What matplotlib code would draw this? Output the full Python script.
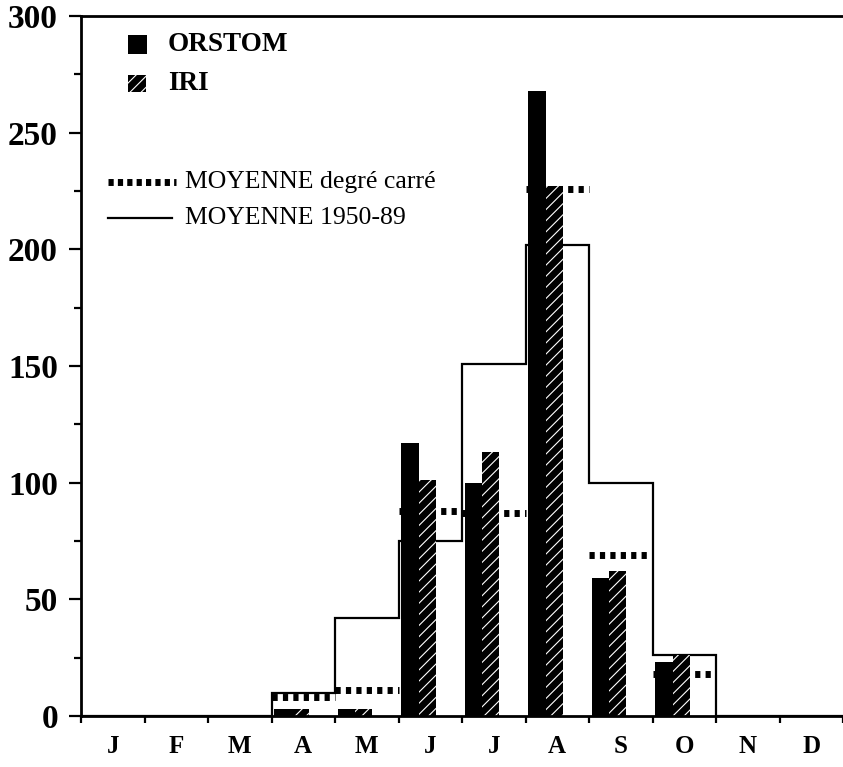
import matplotlib
matplotlib.use("Agg")
import matplotlib.pyplot as plt
from matplotlib.patches import Rectangle
from matplotlib.lines import Line2D
import numpy as np

# monthly rainfall (mm)
months = ["J", "F", "M", "A", "M", "J", "J", "A", "S", "O", "N", "D"]
orstom = [0, 0, 0, 3, 3, 117, 100, 268, 59, 23, 0, 0]
iri = [0, 0, 0, 3, 3, 101, 113, 227, 62, 26, 0, 0]
moy_carre = [np.nan, np.nan, np.nan, 8, 11, 88, 87, 226, 69, 18, np.nan, np.nan]
moy_1950_89 = [0, 0, 0, 10, 42, 75, 151, 202, 100, 26, 0, 0]

plt.rcParams['font.family'] = ['Liberation Serif', 'DejaVu Serif']
plt.rcParams['hatch.linewidth'] = 0.8

fig = plt.figure(figsize=(8.43, 7.67), dpi=100)
ax = fig.add_axes([81 / 843, 51 / 767, 1 - 81 / 843, 700 / 767])

x = np.arange(len(months))

# mean of the square degree (thick dotted), behind the bars
for i, v in enumerate(moy_carre):
    if not np.isnan(v):
        ax.hlines(v, i, i + 1, colors="black", linewidth=5,
                  linestyles=(0, (0.75, 0.75)), zorder=1)

# mean 1950-89 step line
ax.stairs(moy_1950_89, np.arange(len(months) + 1), color="black",
          linewidth=1.6, zorder=1.5)

ax.bar(x + 0.04, orstom, width=0.28, align="edge", color="black",
       linewidth=0, zorder=2)
ax.bar(x + 0.32, iri, width=0.27, align="edge", facecolor="black",
       edgecolor="white", hatch="///", linewidth=0, zorder=2)

ax.set_xlim(0, 762 / 64.3)
ax.set_ylim(0, 300)

ax.spines["right"].set_visible(False)
for s in ["left", "bottom", "top"]:
    ax.spines[s].set_linewidth(2)

ax.set_yticks(np.arange(0, 301, 50))
ax.set_yticks(np.arange(25, 300, 50), minor=True)
ax.tick_params(axis="y", which="major", length=8.6, width=1.6, pad=8,
               labelsize=24)
ax.tick_params(axis="y", which="minor", length=5, width=1.6)
for lab in ax.get_yticklabels():
    lab.set_fontweight("bold")

ax.set_xticks(np.arange(0, 13))
ax.set_xticklabels([])
ax.set_xticks(x + 0.5, minor=True)
ax.set_xticklabels(months, minor=True, fontsize=18, fontweight="bold")
ax.tick_params(axis="x", which="major", length=5, width=1.6)
ax.tick_params(axis="x", which="minor", length=0, pad=14)

# legend drawn by hand
tr = ax.transAxes
ax.add_patch(Rectangle((0.0617, 0.946), 0.025, 0.027, transform=tr,
                       facecolor="black", linewidth=0, clip_on=False))
ax.add_patch(Rectangle((0.0617, 0.891), 0.024, 0.025, transform=tr,
                       facecolor="black", edgecolor="white", hatch="///",
                       linewidth=0, clip_on=False))
ax.text(0.114, 0.959, "ORSTOM", transform=tr, fontsize=19.5,
        fontweight="bold", va="center", ha="left")
ax.text(0.114, 0.904, "IRI", transform=tr, fontsize=19.5,
        fontweight="bold", va="center", ha="left")
ax.add_line(Line2D([0.0354, 0.1247], [0.763, 0.763], transform=tr,
                   color="black", linewidth=5, linestyle=(0, (0.75, 0.6))))
ax.add_line(Line2D([0.0354, 0.1195], [0.711, 0.711], transform=tr,
                   color="black", linewidth=1.6))
ax.text(0.1365, 0.763, "MOYENNE degré carré", transform=tr, fontsize=18.5,
        va="center", ha="left")
ax.text(0.1365, 0.711, "MOYENNE 1950-89", transform=tr, fontsize=18.5,
        va="center", ha="left")

fig.savefig("out.png", dpi=100)
